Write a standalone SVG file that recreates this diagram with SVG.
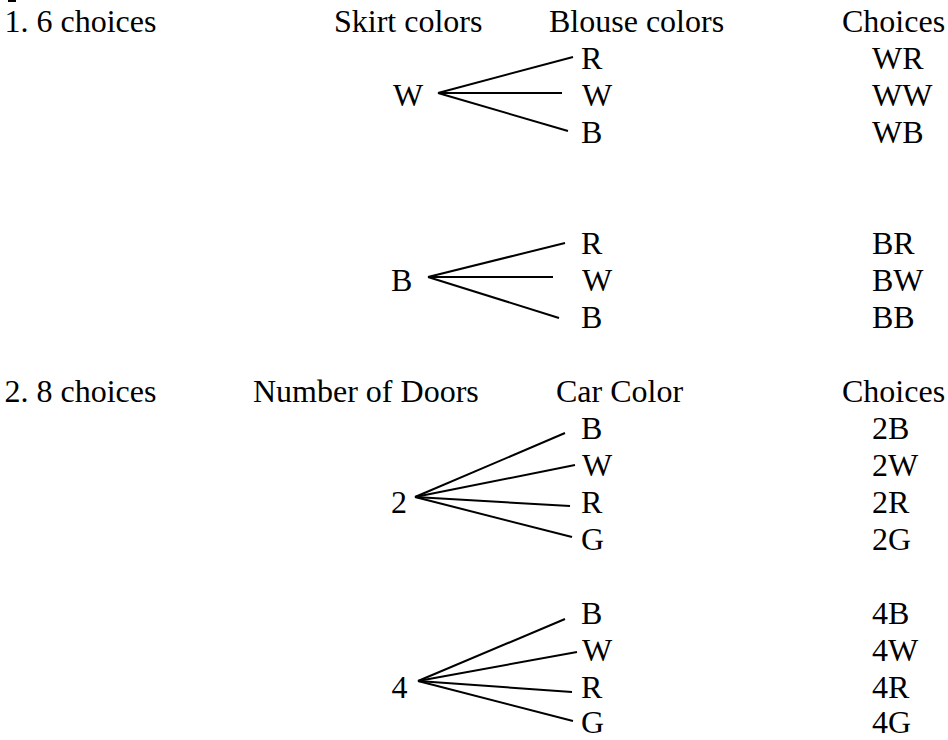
<svg xmlns="http://www.w3.org/2000/svg" width="948" height="740" viewBox="0 0 948 740">
<style>
text{font-family:"Liberation Serif","Times New Roman",serif;font-size:32px;fill:#000}
.c line{stroke:#000;stroke-width:2;stroke-linecap:butt}
</style>
<rect x="0" y="0" width="948" height="740" fill="#fff"/>
<rect x="8" y="0" width="8" height="2" fill="#000"/>
<g id="headers">
<text x="4.5" y="32">1. 6 choices</text>
<text x="334" y="32">Skirt colors</text>
<text x="549" y="32">Blouse colors</text>
<text x="842" y="32">Choices</text>
<text x="4.5" y="402">2. 8 choices</text>
<text x="253" y="402">Number of Doors</text>
<text x="556" y="402">Car Color</text>
<text x="842" y="402">Choices</text>
</g>
<g class="c" id="connectors">
<line x1="438" y1="93" x2="573" y2="57"/>
<line x1="438" y1="93" x2="562" y2="93"/>
<line x1="438" y1="93" x2="568" y2="131"/>
<line x1="428" y1="277" x2="565" y2="243"/>
<line x1="428" y1="277" x2="553" y2="277"/>
<line x1="428" y1="277" x2="559" y2="318"/>
<line x1="415" y1="497" x2="565" y2="433"/>
<line x1="415" y1="497" x2="575" y2="465"/>
<line x1="415" y1="497" x2="570" y2="506"/>
<line x1="415" y1="497" x2="572" y2="537"/>
<line x1="418" y1="681" x2="565" y2="619"/>
<line x1="418" y1="681" x2="577" y2="652"/>
<line x1="418" y1="681" x2="572" y2="692"/>
<line x1="418" y1="681" x2="573" y2="721"/>
</g>
<g id="skirt-W"><text x="393" y="106">W</text></g>
<g id="skirt-B"><text x="391" y="291">B</text></g>
<g id="doors-2"><text x="391" y="513">2</text></g>
<g id="doors-4"><text x="391.5" y="698">4</text></g>
<g id="blouse-W">
<text x="581" y="69">R</text>
<text x="582" y="106">W</text>
<text x="581" y="143">B</text>
</g>
<g id="blouse-B">
<text x="581" y="254">R</text>
<text x="582" y="291">W</text>
<text x="581" y="328">B</text>
</g>
<g id="color-2">
<text x="581" y="439">B</text>
<text x="582" y="476">W</text>
<text x="581" y="513">R</text>
<text x="581" y="550">G</text>
</g>
<g id="color-4">
<text x="581" y="624">B</text>
<text x="582" y="661">W</text>
<text x="581" y="698">R</text>
<text x="581" y="733">G</text>
</g>
<g id="choices-1">
<text x="872" y="69">WR</text>
<text x="872" y="106">WW</text>
<text x="872" y="143">WB</text>
<text x="872" y="254">BR</text>
<text x="872" y="291">BW</text>
<text x="872" y="328">BB</text>
</g>
<g id="choices-2">
<text x="872" y="439">2B</text>
<text x="872" y="476">2W</text>
<text x="872" y="513">2R</text>
<text x="872" y="550">2G</text>
<text x="872" y="624">4B</text>
<text x="872" y="661">4W</text>
<text x="872" y="698">4R</text>
<text x="872" y="733">4G</text>
</g>
</svg>
